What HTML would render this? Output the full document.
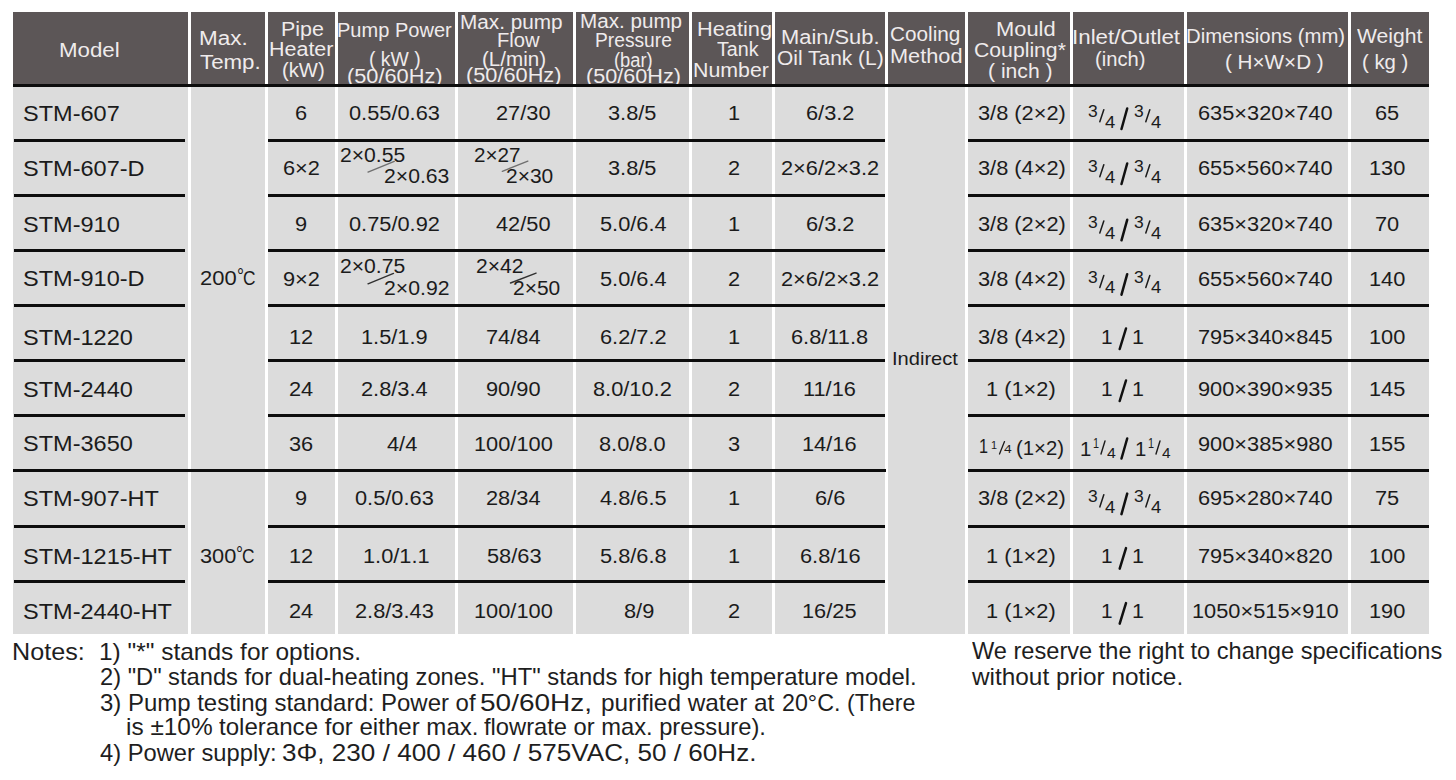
<!DOCTYPE html>
<html><head><meta charset="utf-8"><style>
html,body{margin:0;padding:0;background:#fff;width:1456px;height:780px;overflow:hidden}
body{position:relative;font-family:"Liberation Sans",sans-serif}
body>div,body>svg{position:absolute}
.t{white-space:pre;transform-origin:0 0}
</style></head><body>
<div style="left:13px;top:12px;width:1416px;height:622px;background:#dcdcdc"></div>
<div style="left:13px;top:12px;width:1416px;height:73px;background:#5c5657"></div>
<div style="left:188px;top:12px;width:3px;height:622px;background:#ffffff"></div>
<div style="left:265px;top:12px;width:3px;height:622px;background:#ffffff"></div>
<div style="left:335px;top:12px;width:3px;height:622px;background:#ffffff"></div>
<div style="left:455px;top:12px;width:3px;height:622px;background:#ffffff"></div>
<div style="left:573px;top:12px;width:3px;height:622px;background:#ffffff"></div>
<div style="left:689px;top:12px;width:3px;height:622px;background:#ffffff"></div>
<div style="left:772px;top:12px;width:3px;height:622px;background:#ffffff"></div>
<div style="left:885px;top:12px;width:3px;height:622px;background:#ffffff"></div>
<div style="left:965px;top:12px;width:3px;height:622px;background:#ffffff"></div>
<div style="left:1070px;top:12px;width:3px;height:622px;background:#ffffff"></div>
<div style="left:1184px;top:12px;width:3px;height:622px;background:#ffffff"></div>
<div style="left:1348px;top:12px;width:3px;height:622px;background:#ffffff"></div>
<div style="left:13px;top:84px;width:1416px;height:3px;background:#0d0d0d"></div>
<div style="left:14px;top:139px;width:171px;height:3px;background:#0d0d0d"></div>
<div style="left:268px;top:139px;width:617px;height:3px;background:#0d0d0d"></div>
<div style="left:968px;top:139px;width:461px;height:3px;background:#0d0d0d"></div>
<div style="left:14px;top:194px;width:171px;height:3px;background:#0d0d0d"></div>
<div style="left:268px;top:194px;width:617px;height:3px;background:#0d0d0d"></div>
<div style="left:968px;top:194px;width:461px;height:3px;background:#0d0d0d"></div>
<div style="left:14px;top:249px;width:171px;height:3px;background:#0d0d0d"></div>
<div style="left:268px;top:249px;width:617px;height:3px;background:#0d0d0d"></div>
<div style="left:968px;top:249px;width:461px;height:3px;background:#0d0d0d"></div>
<div style="left:14px;top:304px;width:171px;height:3px;background:#0d0d0d"></div>
<div style="left:268px;top:304px;width:617px;height:3px;background:#0d0d0d"></div>
<div style="left:968px;top:304px;width:461px;height:3px;background:#0d0d0d"></div>
<div style="left:14px;top:359px;width:171px;height:3px;background:#0d0d0d"></div>
<div style="left:268px;top:359px;width:617px;height:3px;background:#0d0d0d"></div>
<div style="left:968px;top:359px;width:461px;height:3px;background:#0d0d0d"></div>
<div style="left:14px;top:414px;width:171px;height:3px;background:#0d0d0d"></div>
<div style="left:268px;top:414px;width:617px;height:3px;background:#0d0d0d"></div>
<div style="left:968px;top:414px;width:461px;height:3px;background:#0d0d0d"></div>
<div style="left:13px;top:469px;width:873px;height:3px;background:#0d0d0d"></div>
<div style="left:968px;top:469px;width:461px;height:3px;background:#0d0d0d"></div>
<div style="left:14px;top:525px;width:171px;height:3px;background:#0d0d0d"></div>
<div style="left:268px;top:525px;width:617px;height:3px;background:#0d0d0d"></div>
<div style="left:968px;top:525px;width:461px;height:3px;background:#0d0d0d"></div>
<div style="left:14px;top:580px;width:171px;height:3px;background:#0d0d0d"></div>
<div style="left:268px;top:580px;width:617px;height:3px;background:#0d0d0d"></div>
<div style="left:968px;top:580px;width:461px;height:3px;background:#0d0d0d"></div>
<div class="t" style="left:58.86px;top:40.48px;font-size:20px;line-height:20px;color:#efebec;transform:scaleX(1.1146);">Model</div>
<div class="t" style="left:199.45px;top:28.43px;font-size:20px;line-height:20px;color:#efebec;transform:scaleX(1.1228);">Max.</div>
<div class="t" style="left:199.80px;top:52.13px;font-size:20px;line-height:20px;color:#efebec;transform:scaleX(1.1149);">Temp.</div>
<div class="t" style="left:281.43px;top:19.23px;font-size:20px;line-height:20px;color:#efebec;transform:scaleX(1.0720);">Pipe</div>
<div class="t" style="left:268.53px;top:38.73px;font-size:20px;line-height:20px;color:#efebec;transform:scaleX(1.0732);">Heater</div>
<div class="t" style="left:281.94px;top:59.51px;font-size:20px;line-height:20px;color:#efebec;transform:scaleX(1.0113);">(kW)</div>
<div class="t" style="left:337.45px;top:19.88px;font-size:20px;line-height:20px;color:#efebec;transform:scaleX(1.0022);">Pump Power</div>
<div class="t" style="left:369.19px;top:48.96px;font-size:20px;line-height:20px;color:#efebec;transform:scaleX(0.9676);">( kW )</div>
<div class="t" style="left:346.94px;top:65.78px;font-size:20px;line-height:20px;color:#efebec;transform:scaleX(1.0885);">(50/60Hz)</div>
<div class="t" style="left:460.49px;top:11.68px;font-size:20px;line-height:20px;color:#efebec;transform:scaleX(1.0368);">Max. pump</div>
<div class="t" style="left:497.44px;top:29.88px;font-size:20px;line-height:20px;color:#efebec;transform:scaleX(1.0086);">Flow</div>
<div class="t" style="left:481.91px;top:49.13px;font-size:20px;line-height:20px;color:#efebec;transform:scaleX(1.0293);">(L/min)</div>
<div class="t" style="left:466.44px;top:65.13px;font-size:20px;line-height:20px;color:#efebec;transform:scaleX(1.0873);">(50/60Hz)</div>
<div class="t" style="left:579.50px;top:11.43px;font-size:20px;line-height:20px;color:#efebec;transform:scaleX(1.0316);">Max. pump</div>
<div class="t" style="left:594.52px;top:30.13px;font-size:20px;line-height:20px;color:#efebec;transform:scaleX(0.9600);">Pressure</div>
<div class="t" style="left:613.96px;top:49.96px;font-size:20px;line-height:20px;color:#efebec;transform:scaleX(0.9157);">(bar)</div>
<div class="t" style="left:585.55px;top:66.38px;font-size:20px;line-height:20px;color:#efebec;transform:scaleX(1.0814);">(50/60Hz)</div>
<div class="t" style="left:697.00px;top:19.13px;font-size:20px;line-height:20px;color:#efebec;transform:scaleX(1.0879);">Heating</div>
<div class="t" style="left:717.26px;top:39.13px;font-size:20px;line-height:20px;color:#efebec;transform:scaleX(0.9833);">Tank</div>
<div class="t" style="left:693.44px;top:59.63px;font-size:20px;line-height:20px;color:#efebec;transform:scaleX(1.0672);">Number</div>
<div class="t" style="left:780.50px;top:26.68px;font-size:20px;line-height:20px;color:#efebec;transform:scaleX(1.0935);">Main/Sub.</div>
<div class="t" style="left:776.51px;top:48.28px;font-size:20px;line-height:20px;color:#efebec;transform:scaleX(1.0466);">Oil Tank (L)</div>
<div class="t" style="left:889.76px;top:24.28px;font-size:20px;line-height:20px;color:#efebec;transform:scaleX(1.0374);">Cooling</div>
<div class="t" style="left:889.71px;top:45.88px;font-size:20px;line-height:20px;color:#efebec;transform:scaleX(1.0878);">Method</div>
<div class="t" style="left:996.39px;top:19.23px;font-size:20px;line-height:20px;color:#efebec;transform:scaleX(1.0941);">Mould</div>
<div class="t" style="left:973.94px;top:40.03px;font-size:20px;line-height:20px;color:#efebec;transform:scaleX(1.0597);">Coupling*</div>
<div class="t" style="left:988.38px;top:60.94px;font-size:20px;line-height:20px;color:#efebec;transform:scaleX(1.0554);">( inch )</div>
<div class="t" style="left:1071.93px;top:26.53px;font-size:20px;line-height:20px;color:#efebec;transform:scaleX(1.1172);">Inlet/Outlet</div>
<div class="t" style="left:1095.14px;top:49.34px;font-size:20px;line-height:20px;color:#efebec;transform:scaleX(1.0074);">(inch)</div>
<div class="t" style="left:1185.92px;top:26.48px;font-size:20px;line-height:20px;color:#efebec;transform:scaleX(1.0156);">Dimensions (mm)</div>
<div class="t" style="left:1224.91px;top:51.83px;font-size:20px;line-height:20px;color:#efebec;transform:scaleX(1.0333);">( H×W×D )</div>
<div class="t" style="left:1357.49px;top:26.48px;font-size:20px;line-height:20px;color:#efebec;transform:scaleX(1.0576);">Weight</div>
<div class="t" style="left:1362.33px;top:52.19px;font-size:20px;line-height:20px;color:#efebec;transform:scaleX(1.0162);">( kg )</div>
<div style="left:13px;top:84px;width:1416px;height:3px;background:#0d0d0d"></div>
<div class="t" style="left:23.04px;top:102.77px;font-size:21.2px;line-height:21.2px;color:#1b1b1b;transform:scaleX(1.1100);">STM-607</div>
<div class="t" style="left:23.04px;top:157.77px;font-size:21.2px;line-height:21.2px;color:#1b1b1b;transform:scaleX(1.1100);">STM-607-D</div>
<div class="t" style="left:23.04px;top:214.07px;font-size:21.2px;line-height:21.2px;color:#1b1b1b;transform:scaleX(1.1100);">STM-910</div>
<div class="t" style="left:23.04px;top:268.47px;font-size:21.2px;line-height:21.2px;color:#1b1b1b;transform:scaleX(1.1100);">STM-910-D</div>
<div class="t" style="left:23.04px;top:326.67px;font-size:21.2px;line-height:21.2px;color:#1b1b1b;transform:scaleX(1.1100);">STM-1220</div>
<div class="t" style="left:23.04px;top:378.67px;font-size:21.2px;line-height:21.2px;color:#1b1b1b;transform:scaleX(1.1100);">STM-2440</div>
<div class="t" style="left:23.04px;top:433.47px;font-size:21.2px;line-height:21.2px;color:#1b1b1b;transform:scaleX(1.1100);">STM-3650</div>
<div class="t" style="left:23.04px;top:487.87px;font-size:21.2px;line-height:21.2px;color:#1b1b1b;transform:scaleX(1.1100);">STM-907-HT</div>
<div class="t" style="left:23.04px;top:546.27px;font-size:21.2px;line-height:21.2px;color:#1b1b1b;transform:scaleX(1.1100);">STM-1215-HT</div>
<div class="t" style="left:23.04px;top:601.27px;font-size:21.2px;line-height:21.2px;color:#1b1b1b;transform:scaleX(1.1100);">STM-2440-HT</div>
<div class="t" style="left:200.40px;top:269.05px;font-size:19.3px;line-height:19.3px;color:#1b1b1b;transform:scaleX(1.1379);">200</div>
<div class="t" style="left:236.75px;top:266.88px;font-size:19.82px;line-height:19.82px;color:#1b1b1b;transform:scaleX(0.8830);">°</div>
<div class="t" style="left:242.73px;top:269.05px;font-size:19.3px;line-height:19.3px;color:#1b1b1b;transform:scaleX(0.8976);">C</div>
<div class="t" style="left:200.38px;top:546.95px;font-size:19.3px;line-height:19.3px;color:#1b1b1b;transform:scaleX(1.1290);">300</div>
<div class="t" style="left:236.45px;top:544.78px;font-size:19.82px;line-height:19.82px;color:#1b1b1b;transform:scaleX(0.8830);">°</div>
<div class="t" style="left:242.43px;top:546.95px;font-size:19.3px;line-height:19.3px;color:#1b1b1b;transform:scaleX(0.8976);">C</div>
<div class="t" style="left:891.60px;top:349.79px;font-size:18.6px;line-height:18.6px;color:#1b1b1b;transform:scaleX(1.0800);">Indirect</div>
<div class="t" style="left:294.87px;top:103.85px;font-size:19.3px;line-height:19.3px;color:#1b1b1b;transform:scaleX(1.1300);">6</div>
<div class="t" style="left:348.56px;top:103.85px;font-size:19.3px;line-height:19.3px;color:#1b1b1b;transform:scaleX(1.1300);">0.55/0.63</div>
<div class="t" style="left:496.18px;top:103.85px;font-size:19.3px;line-height:19.3px;color:#1b1b1b;transform:scaleX(1.1300);">27/30</div>
<div class="t" style="left:608.39px;top:103.85px;font-size:19.3px;line-height:19.3px;color:#1b1b1b;transform:scaleX(1.1300);">3.8/5</div>
<div class="t" style="left:727.65px;top:103.85px;font-size:19.3px;line-height:19.3px;color:#1b1b1b;transform:scaleX(1.1300);">1</div>
<div class="t" style="left:805.76px;top:103.85px;font-size:19.3px;line-height:19.3px;color:#1b1b1b;transform:scaleX(1.1300);">6/3.2</div>
<div class="t" style="left:977.60px;top:103.85px;font-size:19.3px;line-height:19.3px;color:#1b1b1b;transform:scaleX(1.1300);">3/8 (2×2)</div>
<div class="t" style="left:1198.06px;top:103.85px;font-size:19.3px;line-height:19.3px;color:#1b1b1b;transform:scaleX(1.1300);">635×320×740</div>
<div class="t" style="left:1375.09px;top:103.85px;font-size:19.3px;line-height:19.3px;color:#1b1b1b;transform:scaleX(1.1300);">65</div>
<div class="t" style="left:282.52px;top:158.85px;font-size:19.3px;line-height:19.3px;color:#1b1b1b;transform:scaleX(1.1300);">6×2</div>
<div class="t" style="left:608.39px;top:158.85px;font-size:19.3px;line-height:19.3px;color:#1b1b1b;transform:scaleX(1.1300);">3.8/5</div>
<div class="t" style="left:727.95px;top:158.85px;font-size:19.3px;line-height:19.3px;color:#1b1b1b;transform:scaleX(1.1300);">2</div>
<div class="t" style="left:780.90px;top:158.85px;font-size:19.3px;line-height:19.3px;color:#1b1b1b;transform:scaleX(1.1300);">2×6/2×3.2</div>
<div class="t" style="left:977.60px;top:158.85px;font-size:19.3px;line-height:19.3px;color:#1b1b1b;transform:scaleX(1.1300);">3/8 (4×2)</div>
<div class="t" style="left:1198.06px;top:158.85px;font-size:19.3px;line-height:19.3px;color:#1b1b1b;transform:scaleX(1.1300);">655×560×740</div>
<div class="t" style="left:1368.71px;top:158.85px;font-size:19.3px;line-height:19.3px;color:#1b1b1b;transform:scaleX(1.1300);">130</div>
<div class="t" style="left:294.92px;top:215.15px;font-size:19.3px;line-height:19.3px;color:#1b1b1b;transform:scaleX(1.1300);">9</div>
<div class="t" style="left:348.64px;top:215.15px;font-size:19.3px;line-height:19.3px;color:#1b1b1b;transform:scaleX(1.1300);">0.75/0.92</div>
<div class="t" style="left:496.48px;top:215.15px;font-size:19.3px;line-height:19.3px;color:#1b1b1b;transform:scaleX(1.1300);">42/50</div>
<div class="t" style="left:599.52px;top:215.15px;font-size:19.3px;line-height:19.3px;color:#1b1b1b;transform:scaleX(1.1300);">5.0/6.4</div>
<div class="t" style="left:727.65px;top:215.15px;font-size:19.3px;line-height:19.3px;color:#1b1b1b;transform:scaleX(1.1300);">1</div>
<div class="t" style="left:805.76px;top:215.15px;font-size:19.3px;line-height:19.3px;color:#1b1b1b;transform:scaleX(1.1300);">6/3.2</div>
<div class="t" style="left:977.60px;top:215.15px;font-size:19.3px;line-height:19.3px;color:#1b1b1b;transform:scaleX(1.1300);">3/8 (2×2)</div>
<div class="t" style="left:1198.06px;top:215.15px;font-size:19.3px;line-height:19.3px;color:#1b1b1b;transform:scaleX(1.1300);">635×320×740</div>
<div class="t" style="left:1375.06px;top:215.15px;font-size:19.3px;line-height:19.3px;color:#1b1b1b;transform:scaleX(1.1300);">70</div>
<div class="t" style="left:282.54px;top:269.55px;font-size:19.3px;line-height:19.3px;color:#1b1b1b;transform:scaleX(1.1300);">9×2</div>
<div class="t" style="left:599.52px;top:269.55px;font-size:19.3px;line-height:19.3px;color:#1b1b1b;transform:scaleX(1.1300);">5.0/6.4</div>
<div class="t" style="left:727.95px;top:269.55px;font-size:19.3px;line-height:19.3px;color:#1b1b1b;transform:scaleX(1.1300);">2</div>
<div class="t" style="left:780.90px;top:269.55px;font-size:19.3px;line-height:19.3px;color:#1b1b1b;transform:scaleX(1.1300);">2×6/2×3.2</div>
<div class="t" style="left:977.60px;top:269.55px;font-size:19.3px;line-height:19.3px;color:#1b1b1b;transform:scaleX(1.1300);">3/8 (4×2)</div>
<div class="t" style="left:1198.06px;top:269.55px;font-size:19.3px;line-height:19.3px;color:#1b1b1b;transform:scaleX(1.1300);">655×560×740</div>
<div class="t" style="left:1368.71px;top:269.55px;font-size:19.3px;line-height:19.3px;color:#1b1b1b;transform:scaleX(1.1300);">140</div>
<div class="t" style="left:288.62px;top:327.75px;font-size:19.3px;line-height:19.3px;color:#1b1b1b;transform:scaleX(1.1300);">12</div>
<div class="t" style="left:361.23px;top:327.75px;font-size:19.3px;line-height:19.3px;color:#1b1b1b;transform:scaleX(1.1300);">1.5/1.9</div>
<div class="t" style="left:486.27px;top:327.75px;font-size:19.3px;line-height:19.3px;color:#1b1b1b;transform:scaleX(1.1300);">74/84</div>
<div class="t" style="left:599.66px;top:327.75px;font-size:19.3px;line-height:19.3px;color:#1b1b1b;transform:scaleX(1.1300);">6.2/7.2</div>
<div class="t" style="left:727.65px;top:327.75px;font-size:19.3px;line-height:19.3px;color:#1b1b1b;transform:scaleX(1.1300);">1</div>
<div class="t" style="left:791.32px;top:327.75px;font-size:19.3px;line-height:19.3px;color:#1b1b1b;transform:scaleX(1.1300);">6.8/11.8</div>
<div class="t" style="left:977.60px;top:327.75px;font-size:19.3px;line-height:19.3px;color:#1b1b1b;transform:scaleX(1.1300);">3/8 (4×2)</div>
<div class="t" style="left:1198.08px;top:327.75px;font-size:19.3px;line-height:19.3px;color:#1b1b1b;transform:scaleX(1.1300);">795×340×845</div>
<div class="t" style="left:1368.71px;top:327.75px;font-size:19.3px;line-height:19.3px;color:#1b1b1b;transform:scaleX(1.1300);">100</div>
<div class="t" style="left:288.65px;top:379.75px;font-size:19.3px;line-height:19.3px;color:#1b1b1b;transform:scaleX(1.1300);">24</div>
<div class="t" style="left:361.31px;top:379.75px;font-size:19.3px;line-height:19.3px;color:#1b1b1b;transform:scaleX(1.1300);">2.8/3.4</div>
<div class="t" style="left:486.40px;top:379.75px;font-size:19.3px;line-height:19.3px;color:#1b1b1b;transform:scaleX(1.1300);">90/90</div>
<div class="t" style="left:592.99px;top:379.75px;font-size:19.3px;line-height:19.3px;color:#1b1b1b;transform:scaleX(1.1300);">8.0/10.2</div>
<div class="t" style="left:727.95px;top:379.75px;font-size:19.3px;line-height:19.3px;color:#1b1b1b;transform:scaleX(1.1300);">2</div>
<div class="t" style="left:803.17px;top:379.75px;font-size:19.3px;line-height:19.3px;color:#1b1b1b;transform:scaleX(1.1300);">11/16</div>
<div class="t" style="left:986.30px;top:379.75px;font-size:19.3px;line-height:19.3px;color:#1b1b1b;transform:scaleX(1.1300);">1 (1×2)</div>
<div class="t" style="left:1198.11px;top:379.75px;font-size:19.3px;line-height:19.3px;color:#1b1b1b;transform:scaleX(1.1300);">900×390×935</div>
<div class="t" style="left:1368.74px;top:379.75px;font-size:19.3px;line-height:19.3px;color:#1b1b1b;transform:scaleX(1.1300);">145</div>
<div class="t" style="left:288.95px;top:434.55px;font-size:19.3px;line-height:19.3px;color:#1b1b1b;transform:scaleX(1.1300);">36</div>
<div class="t" style="left:386.50px;top:434.55px;font-size:19.3px;line-height:19.3px;color:#1b1b1b;transform:scaleX(1.1300);">4/4</div>
<div class="t" style="left:474.10px;top:434.55px;font-size:19.3px;line-height:19.3px;color:#1b1b1b;transform:scaleX(1.1300);">100/100</div>
<div class="t" style="left:598.90px;top:434.55px;font-size:19.3px;line-height:19.3px;color:#1b1b1b;transform:scaleX(1.1300);">8.0/8.0</div>
<div class="t" style="left:728.00px;top:434.55px;font-size:19.3px;line-height:19.3px;color:#1b1b1b;transform:scaleX(1.1300);">3</div>
<div class="t" style="left:802.36px;top:434.55px;font-size:19.3px;line-height:19.3px;color:#1b1b1b;transform:scaleX(1.1300);">14/16</div>
<div class="t" style="left:1198.08px;top:434.55px;font-size:19.3px;line-height:19.3px;color:#1b1b1b;transform:scaleX(1.1300);">900×385×980</div>
<div class="t" style="left:1368.74px;top:434.55px;font-size:19.3px;line-height:19.3px;color:#1b1b1b;transform:scaleX(1.1300);">155</div>
<div class="t" style="left:294.92px;top:488.95px;font-size:19.3px;line-height:19.3px;color:#1b1b1b;transform:scaleX(1.1300);">9</div>
<div class="t" style="left:354.73px;top:488.95px;font-size:19.3px;line-height:19.3px;color:#1b1b1b;transform:scaleX(1.1300);">0.5/0.63</div>
<div class="t" style="left:486.27px;top:488.95px;font-size:19.3px;line-height:19.3px;color:#1b1b1b;transform:scaleX(1.1300);">28/34</div>
<div class="t" style="left:599.85px;top:488.95px;font-size:19.3px;line-height:19.3px;color:#1b1b1b;transform:scaleX(1.1300);">4.8/6.5</div>
<div class="t" style="left:727.65px;top:488.95px;font-size:19.3px;line-height:19.3px;color:#1b1b1b;transform:scaleX(1.1300);">1</div>
<div class="t" style="left:814.76px;top:488.95px;font-size:19.3px;line-height:19.3px;color:#1b1b1b;transform:scaleX(1.1300);">6/6</div>
<div class="t" style="left:977.60px;top:488.95px;font-size:19.3px;line-height:19.3px;color:#1b1b1b;transform:scaleX(1.1300);">3/8 (2×2)</div>
<div class="t" style="left:1198.06px;top:488.95px;font-size:19.3px;line-height:19.3px;color:#1b1b1b;transform:scaleX(1.1300);">695×280×740</div>
<div class="t" style="left:1375.09px;top:488.95px;font-size:19.3px;line-height:19.3px;color:#1b1b1b;transform:scaleX(1.1300);">75</div>
<div class="t" style="left:288.62px;top:547.35px;font-size:19.3px;line-height:19.3px;color:#1b1b1b;transform:scaleX(1.1300);">12</div>
<div class="t" style="left:363.36px;top:547.35px;font-size:19.3px;line-height:19.3px;color:#1b1b1b;transform:scaleX(1.1300);">1.0/1.1</div>
<div class="t" style="left:486.54px;top:547.35px;font-size:19.3px;line-height:19.3px;color:#1b1b1b;transform:scaleX(1.1300);">58/63</div>
<div class="t" style="left:599.69px;top:547.35px;font-size:19.3px;line-height:19.3px;color:#1b1b1b;transform:scaleX(1.1300);">5.8/6.8</div>
<div class="t" style="left:727.65px;top:547.35px;font-size:19.3px;line-height:19.3px;color:#1b1b1b;transform:scaleX(1.1300);">1</div>
<div class="t" style="left:799.60px;top:547.35px;font-size:19.3px;line-height:19.3px;color:#1b1b1b;transform:scaleX(1.1300);">6.8/16</div>
<div class="t" style="left:986.30px;top:547.35px;font-size:19.3px;line-height:19.3px;color:#1b1b1b;transform:scaleX(1.1300);">1 (1×2)</div>
<div class="t" style="left:1198.06px;top:547.35px;font-size:19.3px;line-height:19.3px;color:#1b1b1b;transform:scaleX(1.1300);">795×340×820</div>
<div class="t" style="left:1368.71px;top:547.35px;font-size:19.3px;line-height:19.3px;color:#1b1b1b;transform:scaleX(1.1300);">100</div>
<div class="t" style="left:288.65px;top:602.35px;font-size:19.3px;line-height:19.3px;color:#1b1b1b;transform:scaleX(1.1300);">24</div>
<div class="t" style="left:354.83px;top:602.35px;font-size:19.3px;line-height:19.3px;color:#1b1b1b;transform:scaleX(1.1300);">2.8/3.43</div>
<div class="t" style="left:474.10px;top:602.35px;font-size:19.3px;line-height:19.3px;color:#1b1b1b;transform:scaleX(1.1300);">100/100</div>
<div class="t" style="left:624.47px;top:602.35px;font-size:19.3px;line-height:19.3px;color:#1b1b1b;transform:scaleX(1.1300);">8/9</div>
<div class="t" style="left:727.95px;top:602.35px;font-size:19.3px;line-height:19.3px;color:#1b1b1b;transform:scaleX(1.1300);">2</div>
<div class="t" style="left:802.33px;top:602.35px;font-size:19.3px;line-height:19.3px;color:#1b1b1b;transform:scaleX(1.1300);">16/25</div>
<div class="t" style="left:986.30px;top:602.35px;font-size:19.3px;line-height:19.3px;color:#1b1b1b;transform:scaleX(1.1300);">1 (1×2)</div>
<div class="t" style="left:1191.73px;top:602.35px;font-size:19.3px;line-height:19.3px;color:#1b1b1b;transform:scaleX(1.1300);">1050×515×910</div>
<div class="t" style="left:1368.71px;top:602.35px;font-size:19.3px;line-height:19.3px;color:#1b1b1b;transform:scaleX(1.1300);">190</div>
<div class="t" style="left:339.74px;top:145.75px;font-size:19.3px;line-height:19.3px;color:#1b1b1b;transform:scaleX(1.0968);">2×0.55</div>
<div class="t" style="left:384.24px;top:166.65px;font-size:19.3px;line-height:19.3px;color:#1b1b1b;transform:scaleX(1.0977);">2×0.63</div>
<div class="t" style="left:474.07px;top:145.75px;font-size:19.3px;line-height:19.3px;color:#1b1b1b;transform:scaleX(1.0712);">2×27</div>
<div class="t" style="left:506.15px;top:166.65px;font-size:19.3px;line-height:19.3px;color:#1b1b1b;transform:scaleX(1.0865);">2×30</div>
<div class="t" style="left:339.74px;top:257.25px;font-size:19.3px;line-height:19.3px;color:#1b1b1b;transform:scaleX(1.0968);">2×0.75</div>
<div class="t" style="left:384.24px;top:278.65px;font-size:19.3px;line-height:19.3px;color:#1b1b1b;transform:scaleX(1.1005);">2×0.92</div>
<div class="t" style="left:475.75px;top:257.25px;font-size:19.3px;line-height:19.3px;color:#1b1b1b;transform:scaleX(1.0904);">2×42</div>
<div class="t" style="left:512.75px;top:278.65px;font-size:19.3px;line-height:19.3px;color:#1b1b1b;transform:scaleX(1.0865);">2×50</div>
<div class="t" style="left:979.29px;top:437.05px;font-size:19.3px;line-height:19.3px;color:#1b1b1b;transform:scaleX(0.8386);">1</div>
<div class="t" style="left:991.18px;top:440.15px;font-size:11.5px;line-height:11.5px;color:#1b1b1b;transform:scaleX(0.9450);">1</div>
<div class="t" style="left:1004.09px;top:443.65px;font-size:11.5px;line-height:11.5px;color:#1b1b1b;transform:scaleX(1.2053);">4</div>
<div class="t" style="left:1015.53px;top:439.00px;font-size:19.3px;line-height:19.3px;color:#1b1b1b;transform:scaleX(1.0548);">(1×2)</div>
<div class="t" style="left:1088.04px;top:104.15px;font-size:15.7px;line-height:15.7px;color:#1b1b1b;transform:scaleX(1.1130);">3</div>
<div class="t" style="left:1104.59px;top:114.65px;font-size:15.7px;line-height:15.7px;color:#1b1b1b;transform:scaleX(1.1730);">4</div>
<div class="t" style="left:1134.04px;top:104.15px;font-size:15.7px;line-height:15.7px;color:#1b1b1b;transform:scaleX(1.1130);">3</div>
<div class="t" style="left:1150.59px;top:114.65px;font-size:15.7px;line-height:15.7px;color:#1b1b1b;transform:scaleX(1.1730);">4</div>
<div class="t" style="left:1088.04px;top:159.15px;font-size:15.7px;line-height:15.7px;color:#1b1b1b;transform:scaleX(1.1130);">3</div>
<div class="t" style="left:1104.59px;top:169.65px;font-size:15.7px;line-height:15.7px;color:#1b1b1b;transform:scaleX(1.1730);">4</div>
<div class="t" style="left:1134.04px;top:159.15px;font-size:15.7px;line-height:15.7px;color:#1b1b1b;transform:scaleX(1.1130);">3</div>
<div class="t" style="left:1150.59px;top:169.65px;font-size:15.7px;line-height:15.7px;color:#1b1b1b;transform:scaleX(1.1730);">4</div>
<div class="t" style="left:1088.04px;top:215.45px;font-size:15.7px;line-height:15.7px;color:#1b1b1b;transform:scaleX(1.1130);">3</div>
<div class="t" style="left:1104.59px;top:225.95px;font-size:15.7px;line-height:15.7px;color:#1b1b1b;transform:scaleX(1.1730);">4</div>
<div class="t" style="left:1134.04px;top:215.45px;font-size:15.7px;line-height:15.7px;color:#1b1b1b;transform:scaleX(1.1130);">3</div>
<div class="t" style="left:1150.59px;top:225.95px;font-size:15.7px;line-height:15.7px;color:#1b1b1b;transform:scaleX(1.1730);">4</div>
<div class="t" style="left:1088.04px;top:269.85px;font-size:15.7px;line-height:15.7px;color:#1b1b1b;transform:scaleX(1.1130);">3</div>
<div class="t" style="left:1104.59px;top:280.35px;font-size:15.7px;line-height:15.7px;color:#1b1b1b;transform:scaleX(1.1730);">4</div>
<div class="t" style="left:1134.04px;top:269.85px;font-size:15.7px;line-height:15.7px;color:#1b1b1b;transform:scaleX(1.1130);">3</div>
<div class="t" style="left:1150.59px;top:280.35px;font-size:15.7px;line-height:15.7px;color:#1b1b1b;transform:scaleX(1.1730);">4</div>
<div class="t" style="left:1100.84px;top:327.75px;font-size:19.3px;line-height:19.3px;color:#1b1b1b;transform:scaleX(1.0782);">1</div>
<div class="t" style="left:1131.99px;top:327.75px;font-size:19.3px;line-height:19.3px;color:#1b1b1b;transform:scaleX(1.1141);">1</div>
<div class="t" style="left:1100.84px;top:379.75px;font-size:19.3px;line-height:19.3px;color:#1b1b1b;transform:scaleX(1.0782);">1</div>
<div class="t" style="left:1131.99px;top:379.75px;font-size:19.3px;line-height:19.3px;color:#1b1b1b;transform:scaleX(1.1141);">1</div>
<div class="t" style="left:1080.17px;top:439.55px;font-size:19.3px;line-height:19.3px;color:#1b1b1b;transform:scaleX(1.0542);">1</div>
<div class="t" style="left:1093.18px;top:436.45px;font-size:14.5px;line-height:14.5px;color:#1b1b1b;transform:scaleX(0.7495);">1</div>
<div class="t" style="left:1106.64px;top:445.85px;font-size:14.5px;line-height:14.5px;color:#1b1b1b;transform:scaleX(1.0925);">4</div>
<div class="t" style="left:1135.07px;top:439.55px;font-size:19.3px;line-height:19.3px;color:#1b1b1b;transform:scaleX(1.0542);">1</div>
<div class="t" style="left:1148.18px;top:436.45px;font-size:14.5px;line-height:14.5px;color:#1b1b1b;transform:scaleX(0.7495);">1</div>
<div class="t" style="left:1161.65px;top:445.85px;font-size:14.5px;line-height:14.5px;color:#1b1b1b;transform:scaleX(1.0652);">4</div>
<div class="t" style="left:1088.04px;top:489.25px;font-size:15.7px;line-height:15.7px;color:#1b1b1b;transform:scaleX(1.1130);">3</div>
<div class="t" style="left:1104.59px;top:499.75px;font-size:15.7px;line-height:15.7px;color:#1b1b1b;transform:scaleX(1.1730);">4</div>
<div class="t" style="left:1134.04px;top:489.25px;font-size:15.7px;line-height:15.7px;color:#1b1b1b;transform:scaleX(1.1130);">3</div>
<div class="t" style="left:1150.59px;top:499.75px;font-size:15.7px;line-height:15.7px;color:#1b1b1b;transform:scaleX(1.1730);">4</div>
<div class="t" style="left:1100.84px;top:547.35px;font-size:19.3px;line-height:19.3px;color:#1b1b1b;transform:scaleX(1.0782);">1</div>
<div class="t" style="left:1131.99px;top:547.35px;font-size:19.3px;line-height:19.3px;color:#1b1b1b;transform:scaleX(1.1141);">1</div>
<div class="t" style="left:1100.84px;top:602.35px;font-size:19.3px;line-height:19.3px;color:#1b1b1b;transform:scaleX(1.0782);">1</div>
<div class="t" style="left:1131.99px;top:602.35px;font-size:19.3px;line-height:19.3px;color:#1b1b1b;transform:scaleX(1.1141);">1</div>
<div class="t" style="left:11.72px;top:641.16px;font-size:23.4px;line-height:23.4px;color:#1e1e1e;transform:scaleX(1.0756);">Notes:</div>
<div class="t" style="left:99.36px;top:641.16px;font-size:23.4px;line-height:23.4px;color:#1e1e1e;transform:scaleX(1.0459);">1) &quot;*&quot; stands for options.</div>
<div class="t" style="left:99.62px;top:666.41px;font-size:23.4px;line-height:23.4px;color:#1e1e1e;transform:scaleX(1.0123);">2) &quot;D&quot; stands for dual-heating zones.</div>
<div class="t" style="left:491.99px;top:666.41px;font-size:23.4px;line-height:23.4px;color:#1e1e1e;transform:scaleX(1.0181);">&quot;HT&quot; stands for high temperature model.</div>
<div class="t" style="left:99.90px;top:691.51px;font-size:23.4px;line-height:23.4px;color:#1e1e1e;transform:scaleX(1.0244);">3) Pump testing standard: Power of</div>
<div class="t" style="left:480.38px;top:691.51px;font-size:23.4px;line-height:23.4px;color:#1e1e1e;transform:scaleX(1.1974);">50/60Hz,</div>
<div class="t" style="left:601.42px;top:691.51px;font-size:23.4px;line-height:23.4px;color:#1e1e1e;transform:scaleX(1.0419);">purified water at</div>
<div class="t" style="left:782.14px;top:691.51px;font-size:23.4px;line-height:23.4px;color:#1e1e1e;transform:scaleX(0.9944);">20°C. (There</div>
<div class="t" style="left:125.75px;top:716.36px;font-size:23.4px;line-height:23.4px;color:#1e1e1e;transform:scaleX(1.0425);">is ±10%</div>
<div class="t" style="left:218.54px;top:716.36px;font-size:23.4px;line-height:23.4px;color:#1e1e1e;transform:scaleX(1.0290);">tolerance for either max.</div>
<div class="t" style="left:484.34px;top:716.36px;font-size:23.4px;line-height:23.4px;color:#1e1e1e;transform:scaleX(1.0133);">flowrate or max. pressure).</div>
<div class="t" style="left:100.27px;top:741.66px;font-size:23.4px;line-height:23.4px;color:#1e1e1e;transform:scaleX(1.0138);">4) Power supply:</div>
<div class="t" style="left:282.02px;top:741.66px;font-size:23.4px;line-height:23.4px;color:#1e1e1e;transform:scaleX(1.1157);">3Φ, 230 / 400 / 460 / 575VAC, 50 / 60Hz.</div>
<div class="t" style="left:971.88px;top:640.46px;font-size:23.4px;line-height:23.4px;color:#1e1e1e;transform:scaleX(1.0084);">We reserve the right to change specifications</div>
<div class="t" style="left:972.06px;top:665.66px;font-size:23.4px;line-height:23.4px;color:#1e1e1e;transform:scaleX(1.0412);">without prior notice.</div>
<svg style="left:0;top:0" width="1456" height="780"><line x1="368.00" y1="172.10" x2="394.30" y2="161.40" stroke="#707070" stroke-width="1.4" stroke-linecap="round"/><line x1="502.30" y1="171.30" x2="527.80" y2="161.10" stroke="#707070" stroke-width="1.4" stroke-linecap="round"/><line x1="368.00" y1="283.80" x2="393.50" y2="273.40" stroke="#303030" stroke-width="1.4" stroke-linecap="round"/><line x1="510.50" y1="283.00" x2="536.10" y2="273.10" stroke="#303030" stroke-width="1.4" stroke-linecap="round"/><line x1="1004.50" y1="441.60" x2="999.50" y2="454.00" stroke="#1b1b1b" stroke-width="1.3" stroke-linecap="round"/><line x1="1103.80" y1="109.70" x2="1099.80" y2="121.80" stroke="#1b1b1b" stroke-width="1.5" stroke-linecap="round"/><line x1="1149.80" y1="109.70" x2="1145.80" y2="121.80" stroke="#1b1b1b" stroke-width="1.5" stroke-linecap="round"/><line x1="1127.20" y1="108.50" x2="1121.50" y2="129.00" stroke="#111" stroke-width="2.5" stroke-linecap="round"/><line x1="1103.80" y1="164.70" x2="1099.80" y2="176.80" stroke="#1b1b1b" stroke-width="1.5" stroke-linecap="round"/><line x1="1149.80" y1="164.70" x2="1145.80" y2="176.80" stroke="#1b1b1b" stroke-width="1.5" stroke-linecap="round"/><line x1="1127.20" y1="163.50" x2="1121.50" y2="184.00" stroke="#111" stroke-width="2.5" stroke-linecap="round"/><line x1="1103.80" y1="221.00" x2="1099.80" y2="233.10" stroke="#1b1b1b" stroke-width="1.5" stroke-linecap="round"/><line x1="1149.80" y1="221.00" x2="1145.80" y2="233.10" stroke="#1b1b1b" stroke-width="1.5" stroke-linecap="round"/><line x1="1127.20" y1="219.80" x2="1121.50" y2="240.30" stroke="#111" stroke-width="2.5" stroke-linecap="round"/><line x1="1103.80" y1="275.40" x2="1099.80" y2="287.50" stroke="#1b1b1b" stroke-width="1.5" stroke-linecap="round"/><line x1="1149.80" y1="275.40" x2="1145.80" y2="287.50" stroke="#1b1b1b" stroke-width="1.5" stroke-linecap="round"/><line x1="1127.20" y1="274.20" x2="1121.50" y2="294.70" stroke="#111" stroke-width="2.5" stroke-linecap="round"/><line x1="1126.00" y1="328.50" x2="1119.70" y2="349.00" stroke="#111" stroke-width="2.5" stroke-linecap="round"/><line x1="1126.00" y1="380.50" x2="1119.70" y2="401.00" stroke="#111" stroke-width="2.5" stroke-linecap="round"/><line x1="1105.00" y1="441.00" x2="1101.00" y2="454.00" stroke="#1b1b1b" stroke-width="1.4" stroke-linecap="round"/><line x1="1127.20" y1="438.50" x2="1121.50" y2="458.50" stroke="#111" stroke-width="2.5" stroke-linecap="round"/><line x1="1160.00" y1="441.00" x2="1156.00" y2="454.00" stroke="#1b1b1b" stroke-width="1.4" stroke-linecap="round"/><line x1="1103.80" y1="494.80" x2="1099.80" y2="506.90" stroke="#1b1b1b" stroke-width="1.5" stroke-linecap="round"/><line x1="1149.80" y1="494.80" x2="1145.80" y2="506.90" stroke="#1b1b1b" stroke-width="1.5" stroke-linecap="round"/><line x1="1127.20" y1="493.60" x2="1121.50" y2="514.10" stroke="#111" stroke-width="2.5" stroke-linecap="round"/><line x1="1126.00" y1="548.10" x2="1119.70" y2="568.60" stroke="#111" stroke-width="2.5" stroke-linecap="round"/><line x1="1126.00" y1="603.10" x2="1119.70" y2="623.60" stroke="#111" stroke-width="2.5" stroke-linecap="round"/></svg>
</body></html>
